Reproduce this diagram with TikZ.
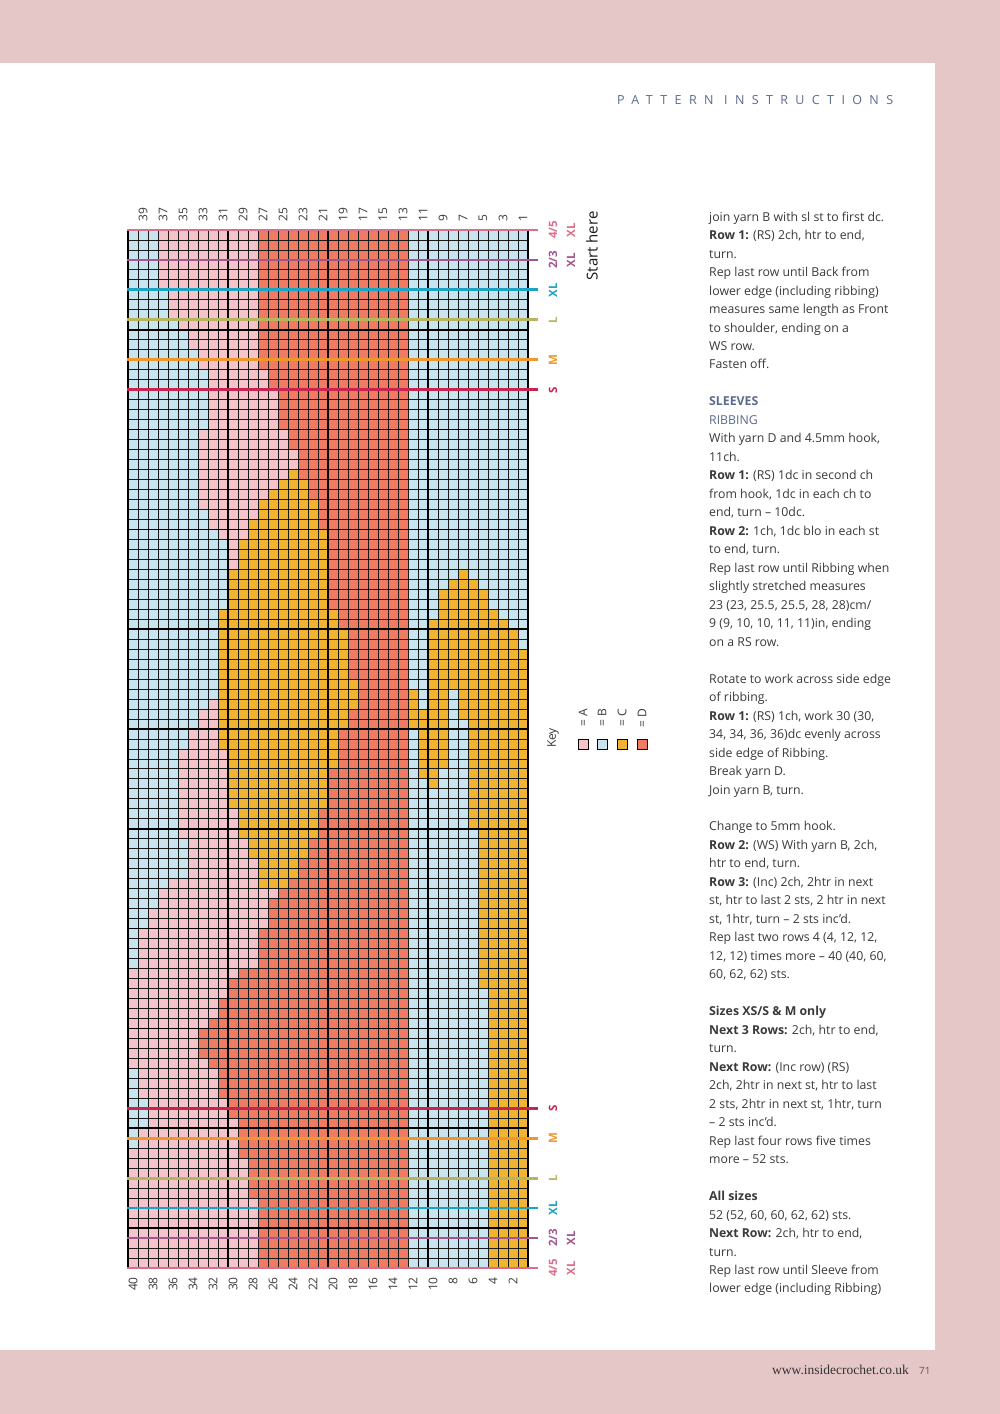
\documentclass[tikz,border=0pt]{standalone}
\usepackage{fontspec}
\setmainfont{Open Sans}
\newfontfamily\serifft{Liberation Serif}
\definecolor{pagepink}{HTML}{E6C7C8}
\definecolor{cA}{HTML}{F5C3CA}
\definecolor{cB}{HTML}{C8E5EF}
\definecolor{cC}{HTML}{F1B431}
\definecolor{cD}{HTML}{EE7B62}
\definecolor{szA}{HTML}{D8708C}
\definecolor{szB}{HTML}{A3558F}
\definecolor{szC}{HTML}{1AA3C2}
\definecolor{szD}{HTML}{B7B65E}
\definecolor{szE}{HTML}{F0972B}
\definecolor{szF}{HTML}{C8244F}
\definecolor{slate}{HTML}{5B6B8E}
\definecolor{bodytext}{HTML}{3A3A3A}
\tikzset{
  gridthin/.style={line width=0.9pt, black!90},
  gridthick/.style={line width=1.7pt, black},
  sizeline/.style={line width=2.8pt},
  numlab/.style={font=\fontsize{12}{12}\selectfont, text=bodytext, inner sep=0pt, rotate=90},
  sizelab/.style={font=\bfseries\fontsize{11.5}{12}\selectfont, inner sep=0pt, rotate=90},
  keybox/.style={draw=black, line width=0.9pt, minimum size=10pt, inner sep=0pt},
  bodytxt/.style={font=\fontsize{12.3}{18.48}\selectfont, text=bodytext, inner sep=0pt, align=left}
}
\begin{document}
\begin{tikzpicture}[x=1pt,y=-1pt]
\useasboundingbox (0,0) rectangle (1000,1414);
\fill[pagepink] (0,0) rectangle (1000,1414);
\fill[white] (0,63) rectangle (935,1350);

% header
\node[anchor=base west, inner sep=0pt, text=slate, font=\fontsize{12.5}{13}\selectfont\addfontfeature{LetterSpace=59}] (hdr) at (617,104) {PATTERN INSTRUCTIONS};

% chart base
\fill[cB] (128,230) rectangle (528,1267.92);
% pink and red
\foreach \ra/\rb/\a/\b in {0/5/3/13, 6/8/4/13, 9/9/5/13, 10/11/6/13, 12/13/7/13, 14/15/8/14, 16/19/8/15, 20/21/7/16, 22/24/7/17, 25/26/7/18, 27/27/7/19, 28/29/8/19, 30/30/9/20, 31/37/10/20, 38/39/9/21, 40/44/9/22, 45/46/9/23, 47/47/8/23, 48/49/7/22, 50/51/6/21, 52/53/5/21, 54/57/5/20, 58/60/5/19, 61/62/6/18, 63/64/6/17, 65/65/4/16, 66/66/3/15, 67/67/3/14, 68/69/2/14, 70/73/1/13, 74/74/0/11, 75/76/0/10, 77/78/0/9, 79/79/0/8, 80/82/0/7, 83/83/0/8, 84/86/1/9, 87/88/2/10, 89/89/2/11, 90/91/1/11, 92/92/0/11, 93/96/0/12, 97/103/0/13}{
  \fill[cA] ({128+10*\a},{230+9.98*\ra}) rectangle ({128+10*\b},{230+9.98*(\rb+1)});
  \fill[cD] ({128+10*\b},{230+9.98*\ra}) rectangle (408,{230+9.98*(\rb+1)});
}
% left yellow
\foreach \ra/\rb/\s/\e in {24/24/16/17, 25/25/15/18, 26/26/14/18, 27/28/13/19, 29/29/12/19, 30/30/12/20, 31/33/11/20, 34/37/10/20, 38/39/9/21, 40/44/9/22, 45/47/9/23, 48/49/9/22, 50/51/9/21, 52/53/10/21, 54/57/10/20, 58/60/11/19, 61/62/12/18, 63/64/13/17, 65/65/13/16}{
  \fill[cC] ({128+10*\s},{230+9.98*\ra}) rectangle ({128+10*\e},{230+9.98*(\rb+1)});
}
% right yellow
\foreach \ra/\rb/\s/\e in {34/34/33/34, 35/35/32/35, 36/37/31/36, 38/38/31/37, 39/39/30/38, 40/41/30/39, 42/45/30/40, 46/47/28/29, 46/47/30/32, 46/48/33/40, 48/49/28/32, 49/49/34/40, 50/53/29/32, 50/53/34/40, 54/54/29/31, 55/55/30/31, 54/55/34/40, 56/59/34/40, 60/75/35/40, 76/103/36/40}{
  \fill[cC] ({128+10*\s},{230+9.98*\ra}) rectangle ({128+10*\e},{230+9.98*(\rb+1)});
}
% grid
\foreach \i in {0,...,40} \draw[gridthin] ({128+10*\i},230) -- ({128+10*\i},1267.92);
\foreach \j in {0,...,104} \draw[gridthin] (128,{230+9.98*\j}) -- (528,{230+9.98*\j});
\foreach \i in {0,10,20,30,40} \draw[gridthick] ({128+10*\i},230) -- ({128+10*\i},1267.92);
\foreach \j in {0,10,20,30,40,50,60,70,80,90,100,104} \draw[gridthick] (128,{230+9.98*\j}) -- (528,{230+9.98*\j});

% size lines
\foreach \yy/\cc in {230/szA, 259.94/szB, 289.88/szC, 319.82/szD, 359.74/szE, 389.68/szF, 1108.24/szF, 1138.18/szE, 1178.1/szD, 1208.04/szC, 1237.98/szB, 1267.92/szA}
  \draw[sizeline, \cc] (127,\yy) -- (538,\yy);

% size labels
\node[sizelab, text=szA] (t45) at (553,230) {4/5};
\node[sizelab, text=szA] (t45x) at (571,230) {XL};
\node[sizelab, text=szB] (t23) at (553,260) {2/3};
\node[sizelab, text=szB] (t23x) at (571,260) {XL};
\node[sizelab, text=szC] (txl) at (553,290) {XL};
\node[sizelab, text=szD] (tl) at (553,320) {L};
\node[sizelab, text=szE] (tm) at (553,360) {M};
\node[sizelab, text=szF] (ts) at (553,390) {S};
\node[sizelab, text=szF] (bs) at (553,1108) {S};
\node[sizelab, text=szE] (bm) at (553,1138) {M};
\node[sizelab, text=szD] (bl) at (553,1178) {L};
\node[sizelab, text=szC] (bxl) at (553,1208) {XL};
\node[sizelab, text=szB] (b23) at (553,1238) {2/3};
\node[sizelab, text=szB] (b23x) at (571,1238) {XL};
\node[sizelab, text=szA] (b45) at (553,1268) {4/5};
\node[sizelab, text=szA] (b45x) at (571,1268) {XL};

% start here
\node[rotate=90, inner sep=0pt, font=\fontsize{15}{15}\selectfont, text=black!90] (start) at (592,246) {Start here};

% column numbers
\foreach \n in {1,3,...,39} \node[numlab, anchor=west] (top\n) at ({133+10*(40-\n)},222) {\n};
\foreach \n in {2,4,...,40} \node[numlab, anchor=east] (bot\n) at ({133+10*(40-\n)},1277) {\n};

% key
\node[rotate=90, inner sep=0pt, font=\fontsize{12}{12}\selectfont, text=bodytext] (key) at (553,738) {Key};
\node[keybox, fill=cA] (ka) at (583,744) {};
\node[keybox, fill=cB] (kb) at (602,744) {};
\node[keybox, fill=cC] (kc) at (622,744) {};
\node[keybox, fill=cD] (kd) at (642,744) {};
\node[numlab] (la) at (583,718) {= A};
\node[numlab] (lb) at (602,718) {= B};
\node[numlab] (lc) at (622,718) {= C};
\node[numlab] (ld) at (642,718) {= D};

% instructions
\node[bodytxt, anchor=north west] (instr) at (709,211.5) {%
join yarn B with sl st to first dc.\\
\textbf{Row 1:} (RS) 2ch, htr to end,\\
turn.\\
Rep last row until Back from\\
lower edge (including ribbing)\\
measures same length as Front\\
to shoulder, ending on a\\
WS row.\\
Fasten off.\\[18.48pt]
{\color{slate}\textbf{SLEEVES}}\\
{\color{slate}RIBBING}\\
With yarn D and 4.5mm hook,\\
11ch.\\
\textbf{Row 1:} (RS) 1dc in second ch\\
from hook, 1dc in each ch to\\
end, turn – 10dc.\\
\textbf{Row 2:} 1ch, 1dc blo in each st\\
to end, turn.\\
Rep last row until Ribbing when\\
slightly stretched measures\\
23 (23, 25.5, 25.5, 28, 28)cm/\\
9 (9, 10, 10, 11, 11)in, ending\\
on a RS row.\\[18.48pt]
Rotate to work across side edge\\
of ribbing.\\
\textbf{Row 1:} (RS) 1ch, work 30 (30,\\
34, 34, 36, 36)dc evenly across\\
side edge of Ribbing.\\
Break yarn D.\\
Join yarn B, turn.\\[18.48pt]
Change to 5mm hook.\\
\textbf{Row 2:} (WS) With yarn B, 2ch,\\
htr to end, turn.\\
\textbf{Row 3:} (Inc) 2ch, 2htr in next\\
st, htr to last 2 sts, 2 htr in next\\
st, 1htr, turn – 2 sts inc’d.\\
Rep last two rows 4 (4, 12, 12,\\
12, 12) times more – 40 (40, 60,\\
60, 62, 62) sts.\\[18.48pt]
\textbf{Sizes XS/S \& M only}\\
\textbf{Next 3 Rows:} 2ch, htr to end,\\
turn.\\
\textbf{Next Row:} (Inc row) (RS)\\
2ch, 2htr in next st, htr to last\\
2 sts, 2htr in next st, 1htr, turn\\
– 2 sts inc’d.\\
Rep last four rows five times\\
more – 52 sts.\\[18.48pt]
\textbf{All sizes}\\
52 (52, 60, 60, 62, 62) sts.\\
\textbf{Next Row:} 2ch, htr to end,\\
turn.\\
Rep last row until Sleeve from\\
lower edge (including Ribbing)};

% footer
\node[anchor=base west, inner sep=0pt, font=\serifft\fontsize{13.5}{14}\selectfont, text=black!80] (web) at (772,1374) {www.insidecrochet.co.uk};
\node[anchor=base west, inner sep=0pt, font=\fontsize{10}{11}\selectfont, text=black!65] (pg) at (919,1374) {71};
\end{tikzpicture}
\end{document}
